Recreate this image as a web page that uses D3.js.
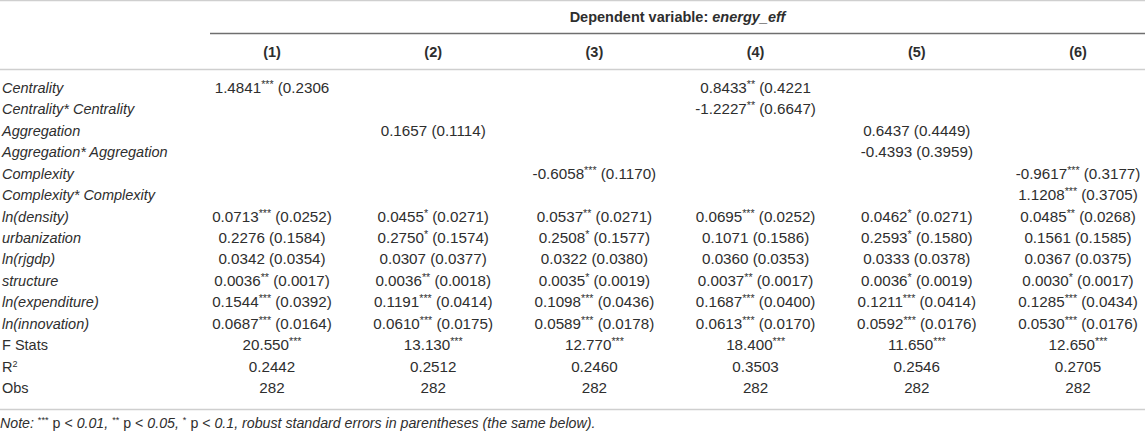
<!DOCTYPE html>
<html>
<head>
<meta charset="utf-8">
<script src="https://cdn.jsdelivr.net/npm/d3@7"></script>
<style>
  body { margin: 0; background: #fff; }
  svg { display: block; font-family: "Liberation Sans", Arial, sans-serif; }
</style>
</head>
<body>
<div id="table"></div>
<script>
// table contents
const models = ["(1)", "(2)", "(3)", "(4)", "(5)", "(6)"];
const rowLabels = ["Centrality", "Centrality* Centrality", "Aggregation", "Aggregation* Aggregation",
  "Complexity", "Complexity* Complexity", "ln(density)", "urbanization", "ln(rjgdp)", "structure",
  "ln(expenditure)", "ln(innovation)", "F Stats", "R2", "Obs"];
const italicRows = 12; // first 12 labels are variables (italic)

const model1 = ["1.4841*** (0.2306", "", "", "", "", "", "0.0713*** (0.0252)", "0.2276 (0.1584)",
  "0.0342 (0.0354)", "0.0036** (0.0017)", "0.1544*** (0.0392)", "0.0687*** (0.0164)", "20.550***", "0.2442", "282"];
const model2 = ["", "", "0.1657 (0.1114)", "", "", "", "0.0455* (0.0271)", "0.2750* (0.1574)",
  "0.0307 (0.0377)", "0.0036** (0.0018)", "0.1191*** (0.0414)", "0.0610*** (0.0175)", "13.130***", "0.2512", "282"];
const model3 = ["", "", "", "", "-0.6058*** (0.1170)", "", "0.0537** (0.0271)", "0.2508* (0.1577)",
  "0.0322 (0.0380)", "0.0035* (0.0019)", "0.1098*** (0.0436)", "0.0589*** (0.0178)", "12.770***", "0.2460", "282"];
const model4 = ["0.8433** (0.4221", "-1.2227** (0.6647)", "", "", "", "", "0.0695*** (0.0252)", "0.1071 (0.1586)",
  "0.0360 (0.0353)", "0.0037** (0.0017)", "0.1687*** (0.0400)", "0.0613*** (0.0170)", "18.400***", "0.3503", "282"];
const model5 = ["", "", "0.6437 (0.4449)", "-0.4393 (0.3959)", "", "", "0.0462* (0.0271)", "0.2593* (0.1580)",
  "0.0333 (0.0378)", "0.0036* (0.0019)", "0.1211*** (0.0414)", "0.0592*** (0.0176)", "11.650***", "0.2546", "282"];
const model6 = ["", "", "", "", "-0.9617*** (0.3177)", "1.1208*** (0.3705)", "0.0485** (0.0268)", "0.1561 (0.1585)",
  "0.0367 (0.0375)", "0.0030* (0.0017)", "0.1285*** (0.0434)", "0.0530*** (0.0176)", "12.650***", "0.2705", "282"];
const cells = [model1, model2, model3, model4, model5, model6];

const width = 1145, height = 433;
const fontSize = 14.5;
const cellFont = 15.2;
const textColor = "#2e2e2e";

const svg = d3.select("#table")
  .append("svg")
  .attr("width", width)
  .attr("height", height);

// column & row positions
const xScale = d3.scalePoint().domain(models).range([272, 1078]);
const yScale = d3.scalePoint().domain(rowLabels).range([88, 388]);
const baseOff = 5; // centre -> baseline

// writes a string, turning runs of * into superscripts
function writeStars(textSel, str, size) {
  const parts = str.split(/(\*+)/).filter(p => p !== "");
  let raised = false;
  parts.forEach(p => {
    const t = textSel.append("tspan");
    if (/^\*+$/.test(p)) {
      t.attr("font-size", size * 0.7).attr("dy", raised ? 0 : -5).text(p);
      raised = true;
    } else {
      t.attr("dy", raised ? 5 : 0).text(p);
      raised = false;
    }
  });
}

// rules
const rules = [
  { x1: 0, x2: width, y: 0.5, c: "#cfcfcf" },
  { x1: 210, x2: width, y: 33.5, c: "#6f6f6f" },
  { x1: 0, x2: width, y: 69.5, c: "#cfcfcf" },
  { x1: 0, x2: width, y: 409.5, c: "#cfcfcf" }
];
svg.selectAll(".rule")
  .data(rules)
  .enter()
  .append("line")
    .attr("class", "rule")
    .attr("x1", d => d.x1).attr("x2", d => d.x2)
    .attr("y1", d => d.y).attr("y2", d => d.y)
    .attr("stroke", d => d.c)
    .attr("stroke-width", 1.3);

// top header
const head = svg.append("text")
  .attr("x", (210 + width) / 2)
  .attr("y", 22)
  .attr("text-anchor", "middle")
  .attr("font-size", fontSize)
  .attr("font-weight", "bold")
  .attr("fill", textColor);
head.append("tspan").text("Dependent variable: ");
head.append("tspan").attr("font-style", "italic").text("energy_eff");

// model numbers
svg.selectAll(".model")
  .data(models)
  .enter()
  .append("text")
    .attr("class", "model")
    .attr("x", d => xScale(d))
    .attr("y", 52 + baseOff)
    .attr("text-anchor", "middle")
    .attr("font-size", fontSize)
    .attr("font-weight", "bold")
    .attr("fill", textColor)
    .text(d => d);

// row labels
svg.selectAll(".label")
  .data(rowLabels)
  .enter()
  .append("text")
    .attr("class", "label")
    .attr("x", 2)
    .attr("y", d => yScale(d) + baseOff)
    .attr("font-size", fontSize)
    .attr("fill", textColor)
    .attr("font-style", (d, i) => i < italicRows ? "italic" : "normal")
    .each(function(d) {
      const t = d3.select(this);
      if (d === "R2") {
        t.append("tspan").text("R");
        t.append("tspan").attr("font-size", fontSize * 0.62).attr("dy", -5).text("2");
      } else {
        t.text(d);
      }
    });

// cells
const flat = [];
cells.forEach((col, ci) => col.forEach((v, ri) => {
  if (v !== "") flat.push({ model: models[ci], row: rowLabels[ri], value: v });
}));

svg.selectAll(".cell")
  .data(flat)
  .enter()
  .append("text")
    .attr("class", "cell")
    .attr("x", d => xScale(d.model))
    .attr("y", d => yScale(d.row) + baseOff)
    .attr("text-anchor", "middle")
    .attr("font-size", cellFont)
    .attr("fill", textColor)
    .each(function(d) { writeStars(d3.select(this), d.value, cellFont); });

// footnote
const noteFont = 14.2;
const note = svg.append("text")
  .attr("x", 0)
  .attr("y", 423 + baseOff)
  .attr("font-size", noteFont)
  .attr("fill", textColor);
const noteParts = [
  ["Note: ", true], ["***", false], [" p < ", false], ["0.01, ", true], ["**", false], [" p < ", false],
  ["0.05, ", true], ["*", false], [" p < ", false], ["0.1, robust standard errors in parentheses (the same below).", true]
];
let up = false;
noteParts.forEach(([txt, it]) => {
  const t = note.append("tspan");
  if (/^\*+$/.test(txt)) {
    t.attr("font-size", noteFont * 0.65).attr("dy", -5).text(txt);
    up = true;
  } else {
    t.attr("dy", up ? 5 : 0).attr("font-style", it ? "italic" : "normal").text(txt);
    up = false;
  }
});
</script>
</body>
</html>
